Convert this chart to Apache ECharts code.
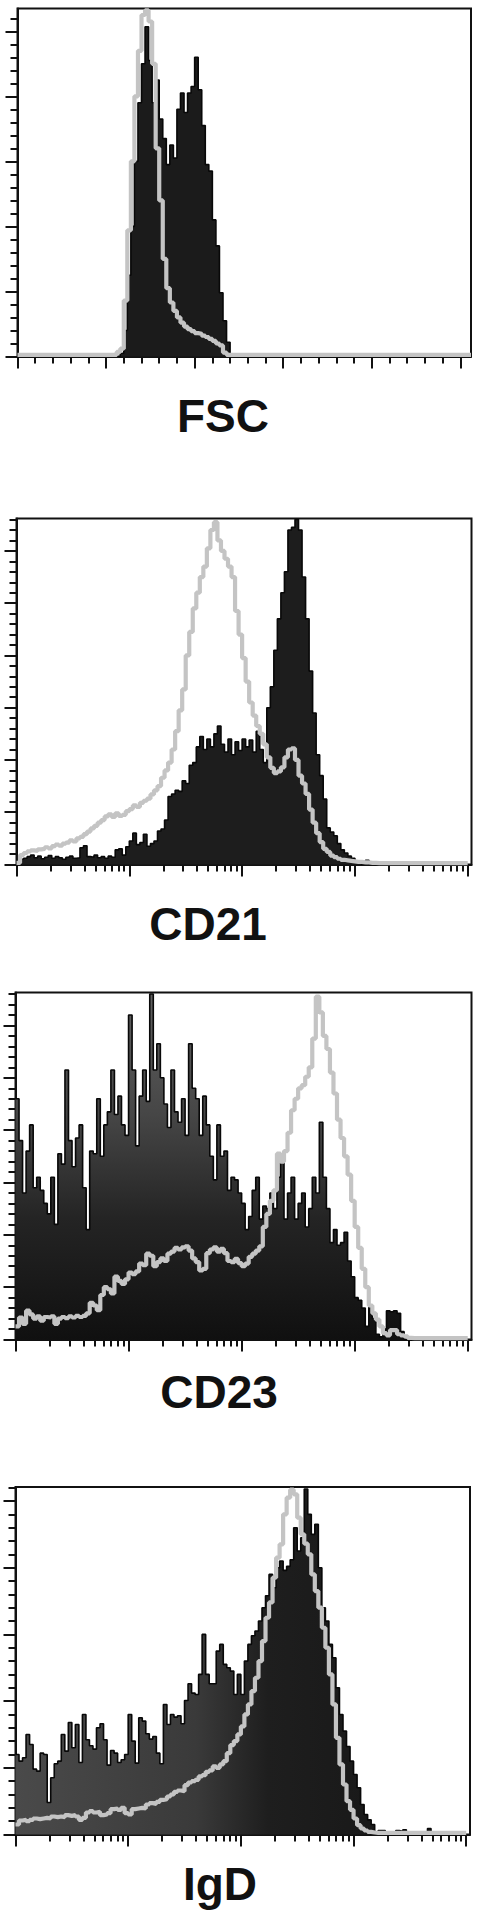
<!DOCTYPE html>
<html>
<head>
<meta charset="utf-8">
<script src="https://cdn.jsdelivr.net/npm/echarts@6/dist/echarts.min.js"></script>
<style>
html,body{margin:0;padding:0;background:#fff;}
#chart{width:481px;height:1918px;}
</style>
</head>
<body>
<div id="chart"></div>
<script>
// ---- Panel titles ----
const LABELS = ['FSC', 'CD21', 'CD23', 'IgD'];

// ---- FSC (linear channel 0..1024, 128 bins of 8) ----
const FSC_STAINED = [
  0,0,0,0,0,0,0,0,0,0,0,0,0,0,0,0,
  0,0,0,0,0,0,0,0,0,0,0,0,0,0.5,4,12.5,
  20,30,39,45,50.7,45.5,39,42.5,36.5,33.5,29.5,32.5,30.5,38,40.5,37.5,
  40.5,41.5,46,41,35.5,29.5,28.5,21,17,9.8,5.5,2.2,0,0,0,0,
  0,0,0,0,0,0,0,0,0,0,0,0,0,0,0,0,
  0,0,0,0,0,0,0,0,0,0,0,0,0,0,0,0,
  0,0,0,0,0,0,0,0,0,0,0,0,0,0,0,0,
  0,0,0,0,0,0,0,0,0,0,0,0,0,0,0,0
];
const FSC_CONTROL = [
  0.25,0.25,0.25,0.25,0.25,0.25,0.25,0.25,0.25,0.25,0.25,0.25,0.25,0.25,0.25,0.25,
  0.25,0.25,0.25,0.25,0.25,0.25,0.25,0.25,0.25,0.25,0.25,0.25,0.7,1.2,8.6,19.4,
  30,40,47,52.5,53.2,51.5,45,32,24,15,10.5,8.3,7,6,5.2,4.6,
  4.2,3.9,3.6,3.5,3.2,3.0,2.7,2.4,2.0,1.7,0.6,0.25,0.25,0.25,0.25,0.25,
  0.25,0.25,0.25,0.25,0.25,0.25,0.25,0.25,0.25,0.25,0.25,0.25,0.25,0.25,0.25,0.25,
  0.25,0.25,0.25,0.25,0.25,0.25,0.25,0.25,0.25,0.25,0.25,0.25,0.25,0.25,0.25,0.25,
  0.25,0.25,0.25,0.25,0.25,0.25,0.25,0.25,0.25,0.25,0.25,0.25,0.25,0.25,0.25,0.25,
  0.25,0.25,0.25,0.25,0.25,0.25,0.25,0.25,0.25,0.25,0.25,0.25,0.25,0.25,0.25,0.25
];

// ---- CD21 (log 10^0..10^4, 128 bins) ----
const CD21_STAINED = [
  0.3,1.0,1.2,1.5,1.8,1.3,1.6,1.1,1.4,1.7,1.2,1.5,1.3,1.0,1.4,1.6,
  1.2,1.3,3.2,3.6,1.5,1.4,1.8,1.3,1.5,1.2,1.6,1.4,2.8,3.0,1.8,3.4,
  4.5,6.0,3.8,4.2,5.8,3.5,4.0,4.5,6.4,6.8,8.5,13.0,13.5,14.2,14.0,16.0,
  15.5,19.0,19.5,22.5,24.5,22.0,24.0,22.5,25.0,26.5,23.0,21.5,24.0,21.0,23.5,21.8,
  24.0,22.5,23.8,21.5,25.5,22.0,19.5,30,34,41,47,52,56,64,64.5,66,
  64,55,47,37,29,21,17,12.5,7,6.2,5.5,4.0,2.8,2.2,1.6,1.2,
  0.6,0.3,0,0.8,0,0,0,0,0,0,0,0,0,0,0,0,
  0,0,0,0,0,0,0,0,0,0,0,0,0,0,0,0
];
const CD21_CONTROL = [
  0.3,1.8,2.2,2.5,2.7,2.6,2.9,3.0,3.3,3.1,3.5,3.8,3.6,4.0,4.2,4.6,
  4.4,5.0,5.3,5.8,6.3,6.9,7.4,8.0,8.5,9.2,9.6,9.1,9.8,9.3,9.5,10.2,
  10.6,11.3,11.0,11.8,12.2,12.6,13.4,14.2,15.0,16.6,18.0,19.5,22.0,25.5,29.5,33.5,
  40.0,44.5,49.0,52.0,55.0,57.0,60.5,64.0,65.5,62.0,60.0,58.5,57.0,55.0,48.5,44.0,
  39.5,35.0,31.0,28.5,26.5,25.0,23.0,20.5,18.5,17.5,17.8,18.6,20.5,22.0,22.2,20.0,
  17.0,15.5,13.5,10.5,8.0,6.0,4.3,3.0,2.4,1.7,1.4,1.1,0.9,0.8,0.7,0.6,
  0.5,0.5,0.4,0.4,0.3,0.3,0.25,0.25,0.25,0.25,0.25,0.25,0.25,0.25,0.25,0.25,
  0.25,0.25,0.25,0.25,0.25,0.25,0.25,0.25,0.25,0.25,0.25,0.25,0.25,0.25,0.25,0.25
];

// ---- CD23 ----
const CD23_STAINED = [
  46,38,28,36,41,29,31,28.5,26,24,31,22,35.5,33.5,51.5,38,
  33,38.5,41,29,21,36,35.5,46,35,41,43.5,51.5,43,46.5,41,39,
  62,51.5,37,46.5,51.5,45.5,66,51.5,56.5,50,45,40.5,51.5,43.5,41.5,46,
  39,56.5,48,46,39,46.5,41,35,30.5,41,35,36,28.5,31,30.5,28,
  26,21,23.5,28.5,31,23,25.5,25,28,25,31,35.5,23,28,31,23,
  26,28,21.5,25,31,28,41.5,31,25,18.5,21,18,18.5,20.5,15,12,
  8,7.5,6,2.5,6.5,4,1,0.5,2,5.5,5.3,5.5,5,1.5,0,0,
  0,0,0,0,0,0,0,0,0,0,0,0,0,0,0,0
];
const CD23_CONTROL = [
  2.5,4.2,3.0,5.5,4.8,4.0,4.4,3.6,4.3,4.2,4.4,3.0,4.0,4.3,4.1,4.4,
  4.2,4.5,4.3,4.5,5.0,7.0,6.5,5.6,8.5,10.0,9.6,8.8,12.0,11.2,10.6,11.5,
  12.8,12.5,13.0,14.5,14.2,16.4,16.0,14.0,14.8,15.5,15.0,16.4,16.8,17.5,17.2,17.6,
  17.8,17.0,15.5,14.8,13.2,13.5,16.5,17.2,17.6,16.8,17.3,16.5,15.0,14.8,15.4,14.6,
  14.0,14.5,15.8,16.4,17.0,17.8,21.5,24.0,26.5,28.5,35.5,34.0,36.0,39.5,43.8,46.0,
  48.0,48.6,50.2,52.0,57.5,65.5,62.5,58.0,55.5,51.0,47.0,42.0,38.5,35.0,31.5,26.5,
  21.5,17.5,13.5,10.0,6.5,5.0,3.8,2.5,1.2,0.8,1.8,1.8,1.0,0.8,0.6,0.3,
  0.25,0.25,0.25,0.25,0.25,0.25,0.25,0.25,0.25,0.25,0.25,0.25,0.25,0.25,0.25,0.25
];

// ---- IgD ----
const IGD_STAINED = [
  12,11,11.5,15,13.5,9.8,9.5,12.2,12.0,4.8,8.5,10.6,11.0,15.0,12.5,16.8,
  13.0,16.5,10.8,18.0,14.2,13.3,12.8,16.0,16.6,14.2,10.4,12.6,12.2,10.8,11.2,12.0,
  18.0,14.0,10.7,17.5,17.0,15.1,14.3,14.7,12.2,10.6,19.5,16.5,18.0,17.6,17.8,16.6,
  20.1,22.6,21.2,21.0,24.0,30.0,24.0,22.6,22.6,27.5,28.5,25.5,25.0,24.5,21.0,24.0,
  21.0,26.0,28.5,29.8,30.5,32.0,34.0,35.8,39.0,37.0,40.0,41.0,39.6,40.2,41.2,46.0,
  42.5,44.5,51.8,48.0,45.0,46.5,40.0,34.0,32.0,28.5,26.5,22.0,18.0,15.5,13.2,11.0,
  9.0,7.0,4.5,3.0,2.2,1.5,0.3,0.6,0.6,0.4,0,0,0.6,0.5,0.7,0.4,
  0,0,0,0,0,0.9,0,0,0,0,0,0,0,0,0,0
];
const IGD_CONTROL = [
  1.5,2.1,2.2,2.0,2.2,2.4,2.3,2.4,2.5,2.4,2.7,2.6,2.7,2.6,2.9,2.8,
  2.9,2.7,2.2,2.5,3.3,3.5,3.3,3.4,2.9,3.0,3.2,3.8,3.9,3.7,4.0,3.2,
  3.0,3.8,3.9,4.0,3.9,4.5,4.7,4.6,4.9,5.2,5.3,5.7,6.0,6.4,6.6,6.5,
  7.4,7.8,8.0,8.2,8.7,8.9,9.4,9.6,10.2,10.0,10.5,11.0,12.2,13.4,14.0,15.0,
  16.2,18.0,19.5,21.5,23.5,26.0,29.0,32.5,34.8,38.5,41.5,43.5,48.0,50.5,51.7,51.0,
  47.5,45.0,43.6,42.0,39.0,36.5,34.0,31.0,28.0,24.0,19.5,14.5,10.5,7.5,5.0,3.7,
  2.4,1.4,0.9,0.6,0.4,0.3,0.25,0.25,0.25,0.25,0.25,0.25,0.25,0.25,0.25,0.25,
  0.25,0.25,0.25,0.25,0.25,0.25,0.25,0.25,0.25,0.25,0.25,0.25,0.25,0.25,0.25,0.25
];

// ---- Axis tick positions ----
const LIN_MAJOR = [0, 200, 400, 600, 800, 1000];
const LOG_MAJOR = [1, 10, 100, 1000, 10000];
const N_BINS = 128;

// ---------- build ----------
const linMinor = [];
for (let v = 40; v < 1024; v += 40) if (v % 200 !== 0) linMinor.push(v);
const logMinor = [];
for (let d = 1; d < 10000; d *= 10) for (let k = 2; k <= 9; k++) logMinor.push(k * d);
function yTicks(max, major) {
  const maj = [], min = [];
  for (let v = 0; v <= max + 1e-6; v += 2) {
    const r = Math.round(v * 10) / 10;
    if (Math.round(r) % major === 0) maj.push(r); else min.push(r);
  }
  return [maj, min];
}
const linEdges = [], logEdges = [];
for (let i = 0; i <= N_BINS; i++) {
  linEdges.push(i * 1024 / N_BINS);
  logEdges.push(Math.pow(10, 4 * i / N_BINS));
}
function stepData(edges, vals) {
  const d = vals.map((v, i) => [edges[i], v]);
  d.push([edges[vals.length], vals[vals.length - 1]]);
  return d;
}

const panels = [
  { grid: {left: 17.5, top: 8.5, width: 453.5, height: 348}, lin: true, yMax: 53.5,
    stained: FSC_STAINED, control: FSC_CONTROL, fill: '#1b1b1b',
    label: {x: 223, y: 416} },
  { grid: {left: 16.5, top: 518.5, width: 455, height: 346}, lin: false, yMax: 66.2,
    stained: CD21_STAINED, control: CD21_CONTROL, fill: '#1d1d1d',
    label: {x: 208, y: 924} },
  { grid: {left: 15.5, top: 992.5, width: 456, height: 347}, lin: false, yMax: 66.3,
    stained: CD23_STAINED, control: CD23_CONTROL,
    fill: {type: 'linear', x: 0, y: 0, x2: 0, y2: 1, colorStops: [
      {offset: 0, color: '#606060'}, {offset: 0.35, color: '#464646'},
      {offset: 0.65, color: '#242424'}, {offset: 1, color: '#101010'}]},
    label: {x: 219, y: 1392} },
  { grid: {left: 15.5, top: 1487, width: 454.5, height: 347.5}, lin: false, yMax: 52.1,
    stained: IGD_STAINED, control: IGD_CONTROL,
    fill: {type: 'linear', x: 0, y: 0, x2: 1, y2: 0, colorStops: [
      {offset: 0, color: '#4a4a4a'}, {offset: 0.4, color: '#3a3a3a'},
      {offset: 0.56, color: '#1e1e1e'}, {offset: 1, color: '#141414'}]},
    label: {x: 220, y: 1884} }
];

const AX = '#111';
const option = {
  animation: false,
  backgroundColor: '#ffffff',
  grid: [], xAxis: [], yAxis: [], series: [], graphic: []
};

panels.forEach((p, k) => {
  option.grid.push(Object.assign({show: true, borderColor: AX, borderWidth: 2,
    backgroundColor: 'transparent'}, p.grid));
  const xBase = p.lin
    ? {type: 'value', min: 0, max: 1024}
    : {type: 'log', logBase: 10, min: 1, max: 10800};
  const xMaj = p.lin ? LIN_MAJOR : LOG_MAJOR;
  const xMin = p.lin ? linMinor : logMinor;
  option.xAxis.push(Object.assign({}, xBase, {
    gridIndex: k, position: 'bottom',
    axisLine: {show: true, onZero: false, lineStyle: {color: AX, width: 2}},
    axisTick: {show: true, length: 12, inside: false, lineStyle: {color: AX, width: 2}, customValues: xMaj},
    axisLabel: {show: false}, splitLine: {show: false}, minorTick: {show: false}
  }));
  option.xAxis.push(Object.assign({}, xBase, {
    gridIndex: k, position: 'bottom',
    axisLine: {show: false, onZero: false},
    axisTick: {show: true, length: 7, inside: false, lineStyle: {color: AX, width: 2}, customValues: xMin},
    axisLabel: {show: false}, splitLine: {show: false}, minorTick: {show: false}
  }));
  const [yMaj, yMin] = yTicks(p.yMax, 10);
  const yBase = {type: 'value', min: 0, max: p.yMax, gridIndex: k, position: 'left',
    axisLabel: {show: false}, splitLine: {show: false}, minorTick: {show: false}};
  option.yAxis.push(Object.assign({}, yBase, {
    axisLine: {show: true, onZero: false, lineStyle: {color: AX, width: 2}},
    axisTick: {show: true, length: 12, lineStyle: {color: AX, width: 2}, customValues: yMaj}
  }));
  option.yAxis.push(Object.assign({}, yBase, {
    axisLine: {show: false},
    axisTick: {show: true, length: 7, lineStyle: {color: AX, width: 2}, customValues: yMin}
  }));
  const edges = p.lin ? linEdges : logEdges;
  option.series.push({
    type: 'line', xAxisIndex: 2 * k, yAxisIndex: 2 * k, step: 'end', symbol: 'none',
    data: stepData(edges, p.stained), z: 2,
    lineStyle: {color: '#080808', width: 1.6},
    areaStyle: {color: p.fill, opacity: 1}
  });
  option.series.push({
    type: 'line', xAxisIndex: 2 * k, yAxisIndex: 2 * k, step: 'end', symbol: 'none',
    data: stepData(edges, p.control), z: 3,
    lineStyle: {color: '#c4c4c4', width: 4.2}
  });
  option.graphic.push({
    type: 'text', x: p.label.x, y: p.label.y, z: 10,
    style: {text: LABELS[k], fill: '#111', fontSize: 46, fontWeight: 'bold',
      fontFamily: '"Liberation Sans", Arial, Helvetica, sans-serif',
      align: 'center', verticalAlign: 'middle',
      textAlign: 'center', textVerticalAlign: 'middle'}
  });
});

const chart = echarts.init(document.getElementById('chart'), null, {renderer: 'svg', width: 481, height: 1918});
chart.setOption(option);
</script>
</body>
</html>
